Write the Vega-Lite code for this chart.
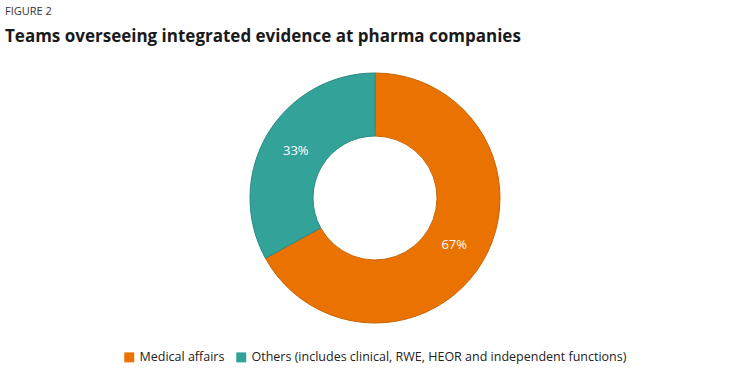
{
  "$schema": "https://vega.github.io/schema/vega-lite/v6.json",
  "width": 750,
  "height": 386,
  "autosize": {"type": "fit", "contains": "padding"},
  "padding": {"left": 5, "right": 5, "top": 6, "bottom": 22},
  "background": "white",
  "config": {
    "view": {"stroke": null},
    "font": "Open Sans",
    "legend": {"layout": {"bottom": {"anchor": "middle"}}}
  },
  "title": {
    "text": "FIGURE 2",
    "subtitle": "Teams overseeing integrated evidence at pharma companies",
    "anchor": "start",
    "font": "Open Sans",
    "fontSize": 11,
    "fontWeight": "normal",
    "color": "#333333",
    "subtitleFont": "Open Sans",
    "subtitleFontSize": 17,
    "subtitleFontWeight": "bold",
    "subtitleColor": "#1a1a1a",
    "subtitlePadding": 12,
    "offset": 12
  },
  "data": {
    "values": [
      {"team": "Medical affairs", "share": 67, "label": "67%"},
      {"team": "Others (includes clinical, RWE, HEOR and independent functions)", "share": 33, "label": "33%"}
    ]
  },
  "encoding": {
    "theta": {"field": "share", "type": "quantitative", "stack": true},
    "order": {"field": "share", "type": "quantitative", "sort": "descending"},
    "color": {
      "field": "team",
      "type": "nominal",
      "sort": ["Medical affairs", "Others (includes clinical, RWE, HEOR and independent functions)"],
      "scale": {
        "domain": ["Medical affairs", "Others (includes clinical, RWE, HEOR and independent functions)"],
        "range": ["#EA7200", "#33A39A"]
      },
      "legend": {
        "orient": "bottom",
        "direction": "horizontal",
        "title": null,
        "symbolType": "square",
        "symbolSize": 100,
        "symbolStrokeWidth": 0,
        "labelFontSize": 12.5,
        "labelColor": "#222222",
        "labelFont": "Open Sans",
        "columnPadding": 10,
        "labelLimit": 600,
        "offset": 12
      }
    }
  },
  "layer": [
    {
      "mark": {"type": "arc", "outerRadius": 125, "innerRadius": 62, "strokeWidth": 1},
      "encoding": {
        "stroke": {
          "field": "team",
          "type": "nominal",
          "scale": {
            "domain": ["Medical affairs", "Others (includes clinical, RWE, HEOR and independent functions)"],
            "range": ["#C96400", "#2A8A82"]
          },
          "legend": null
        }
      }
    },
    {
      "mark": {"type": "text", "radius": 92, "fontSize": 13, "font": "Open Sans"},
      "encoding": {
        "text": {"field": "label", "type": "nominal"},
        "color": {"value": "white"}
      }
    }
  ]
}
